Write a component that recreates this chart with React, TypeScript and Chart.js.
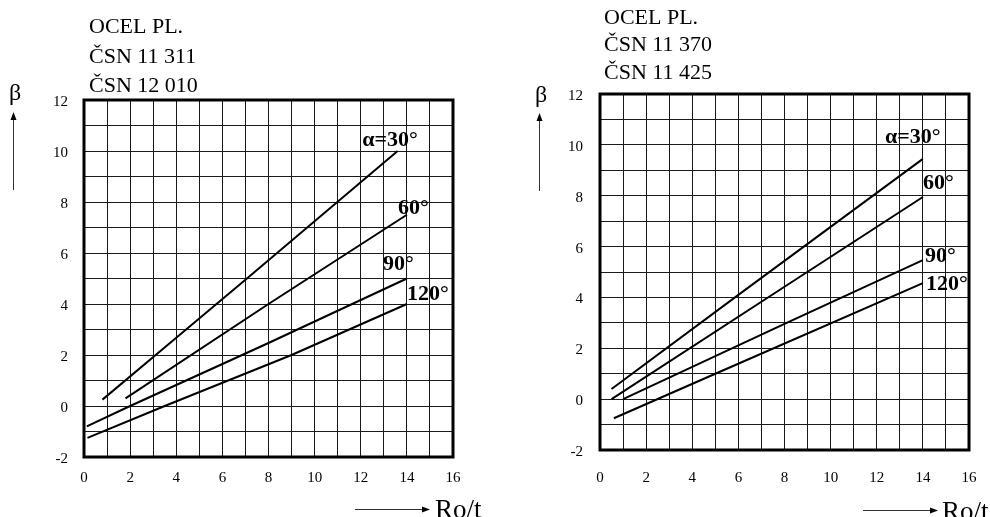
import { useEffect, useRef } from "react";
import { Chart, registerables } from "chart.js";

Chart.register(...registerables);

// ---- axis ranges / ticks ----
const X_MIN = 0;
const X_MAX = 16;
const Y_MIN = -2;
const Y_MAX = 12;
const X_TICK_LABELS = [0, 2, 4, 6, 8, 10, 12, 14, 16];
const Y_TICK_LABELS = [-2, 0, 2, 4, 6, 8, 10, 12];

// ---- series names ----
const SERIES_NAMES = ["α=30°", "60°", "90°", "120°"];

// ---- titles ----
const LEFT_TITLE = ["OCEL PL.", "ČSN 11 311", "ČSN 12 010"];
const RIGHT_TITLE = ["OCEL PL.", "ČSN 11 370", "ČSN 11 425"];
const Y_LABEL = "β";
const X_LABEL = "Ro/t";

// ---- left panel data (ČSN 11 311 / 12 010) ----
const L30_X = [0.8, 4, 7, 13.6];
const L30_Y = [0.25, 2.68, 4.95, 10.0];
const L60_X = [1.8, 8, 14];
const L60_Y = [0.3, 4.0, 7.5];
const L90_X = [0.12, 2, 8, 14];
const L90_Y = [-0.8, 0, 2.47, 5.0];
const L120_X = [0.15, 3.5, 9, 14];
const L120_Y = [-1.25, 0, 2.0, 4.0];

// ---- right panel data (ČSN 11 370 / 11 425) ----
const R30_X = [0.5, 6, 14];
const R30_Y = [0.4, 4.1, 9.45];
const R60_X = [0.5, 8, 14];
const R60_Y = [0.0, 4.42, 7.95];
const R90_X = [1.0, 8, 14];
const R90_Y = [0.0, 2.96, 5.47];
const R120_X = [0.6, 5, 14];
const R120_Y = [-0.75, 1.0, 4.56];

const SERIF = "'Liberation Serif', 'Times New Roman', serif";

type PanelCfg = {
  canvasLeft: number;
  width: number;
  height: number;
  padRight: number;
  padTop: number;
  padBottom: number;
  yAxisWidth: number;
  xAxisHeight: number;
  yTickPad: number;
  xTickPad: number;
  series: { xs: number[]; ys: number[] }[];
  labelAnchors: { x: number; y: number }[];
  title: string[];
  titleX: number;
  titleBaselines: number[];
  betaX: number;
  betaBaseline: number;
  yArrowX: number;
  yArrowTop: number;
  yArrowBottom: number;
  xArrowLeft: number;
  xArrowRight: number;
  xArrowY: number;
  xLabelX: number;
  xLabelBaseline: number;
};

const LEFT_PANEL: PanelCfg = {
  canvasLeft: 0,
  width: 495,
  height: 517,
  padRight: 42,
  padTop: 100,
  padBottom: 24,
  yAxisWidth: 84,
  xAxisHeight: 36,
  yTickPad: 16,
  xTickPad: 12,
  series: [
    { xs: L30_X, ys: L30_Y },
    { xs: L60_X, ys: L60_Y },
    { xs: L90_X, ys: L90_Y },
    { xs: L120_X, ys: L120_Y },
  ],
  labelAnchors: [
    { x: 12.06, y: 10.43 },
    { x: 13.62, y: 7.76 },
    { x: 12.97, y: 5.57 },
    { x: 14.0, y: 4.39 },
  ],
  title: LEFT_TITLE,
  titleX: 89,
  titleBaselines: [33, 63, 92],
  betaX: 9,
  betaBaseline: 100,
  yArrowX: 13,
  yArrowTop: 112,
  yArrowBottom: 190,
  xArrowLeft: 355,
  xArrowRight: 430,
  xArrowY: 509,
  xLabelX: 435,
  xLabelBaseline: 518,
};

const RIGHT_PANEL: PanelCfg = {
  canvasLeft: 495,
  width: 495,
  height: 517,
  padRight: 21,
  padTop: 94,
  padBottom: 25,
  yAxisWidth: 105,
  xAxisHeight: 42,
  yTickPad: 17,
  xTickPad: 19,
  series: [
    { xs: R30_X, ys: R30_Y },
    { xs: R60_X, ys: R60_Y },
    { xs: R90_X, ys: R90_Y },
    { xs: R120_X, ys: R120_Y },
  ],
  labelAnchors: [
    { x: 12.36, y: 10.31 },
    { x: 14.0, y: 8.5 },
    { x: 14.09, y: 5.63 },
    { x: 14.14, y: 4.53 },
  ],
  title: RIGHT_TITLE,
  titleX: 109,
  titleBaselines: [24, 51, 79],
  betaX: 40,
  betaBaseline: 102,
  yArrowX: 44,
  yArrowTop: 113,
  yArrowBottom: 191,
  xArrowLeft: 368,
  xArrowRight: 443,
  xArrowY: 510,
  xLabelX: 447,
  xLabelBaseline: 520,
};

function makeDecorPlugin(cfg: PanelCfg) {
  return {
    id: "decor",
    afterDraw(chart: any) {
      const ctx = chart.ctx as CanvasRenderingContext2D;
      const { left, top, right, bottom } = chart.chartArea;
      const xs = chart.scales.x;
      const ys = chart.scales.y;
      ctx.save();
      // thick frame
      ctx.strokeStyle = "#000";
      ctx.lineWidth = 3;
      ctx.strokeRect(left, top, right - left, bottom - top);

      // series labels
      ctx.fillStyle = "#000";
      ctx.font = `bold 22px ${SERIF}`;
      ctx.textAlign = "left";
      ctx.textBaseline = "middle";
      cfg.labelAnchors.forEach((a, i) => {
        ctx.fillText(SERIES_NAMES[i], xs.getPixelForValue(a.x), ys.getPixelForValue(a.y));
      });

      // title
      ctx.font = `22px ${SERIF}`;
      ctx.textBaseline = "alphabetic";
      cfg.title.forEach((t, i) => ctx.fillText(t, cfg.titleX, cfg.titleBaselines[i]));

      // beta + arrow
      ctx.font = `24px ${SERIF}`;
      ctx.fillText(Y_LABEL, cfg.betaX, cfg.betaBaseline);
      ctx.strokeStyle = "#333";
      ctx.fillStyle = "#000";
      ctx.lineWidth = 1;
      ctx.beginPath();
      ctx.moveTo(cfg.yArrowX + 0.5, cfg.yArrowBottom);
      ctx.lineTo(cfg.yArrowX + 0.5, cfg.yArrowTop + 6);
      ctx.stroke();
      ctx.beginPath();
      ctx.moveTo(cfg.yArrowX + 0.5, cfg.yArrowTop);
      ctx.lineTo(cfg.yArrowX + 3.5, cfg.yArrowTop + 8);
      ctx.lineTo(cfg.yArrowX - 2.5, cfg.yArrowTop + 8);
      ctx.closePath();
      ctx.fill();

      // Ro/t arrow + label
      ctx.beginPath();
      ctx.moveTo(cfg.xArrowLeft, cfg.xArrowY + 0.5);
      ctx.lineTo(cfg.xArrowRight - 6, cfg.xArrowY + 0.5);
      ctx.stroke();
      ctx.beginPath();
      ctx.moveTo(cfg.xArrowRight, cfg.xArrowY + 0.5);
      ctx.lineTo(cfg.xArrowRight - 8, cfg.xArrowY - 2.5);
      ctx.lineTo(cfg.xArrowRight - 8, cfg.xArrowY + 3.5);
      ctx.closePath();
      ctx.fill();
      ctx.font = `27px ${SERIF}`;
      ctx.fillText(X_LABEL, cfg.xLabelX, cfg.xLabelBaseline);
      ctx.restore();
    },
  };
}

function Panel({ cfg }: { cfg: PanelCfg }) {
  const ref = useRef<HTMLCanvasElement | null>(null);
  useEffect(() => {
    if (!ref.current) return;
    const tickFont = { family: SERIF, size: 15 };
    const chart = new Chart(ref.current, {
      type: "line",
      data: {
        datasets: cfg.series.map((s, i) => ({
          label: SERIES_NAMES[i],
          data: s.xs.map((x, j) => ({ x, y: s.ys[j] })),
          borderColor: "#000",
          borderWidth: 2,
          pointRadius: 0,
          tension: 0,
          fill: false,
        })),
      },
      options: {
        animation: false,
        responsive: false,
        devicePixelRatio: 1,
        layout: {
          padding: { left: 0, right: cfg.padRight, top: cfg.padTop, bottom: cfg.padBottom },
        },
        plugins: {
          legend: { display: false },
          tooltip: { enabled: false },
          title: { display: false },
        },
        scales: {
          x: {
            type: "linear",
            min: X_MIN,
            max: X_MAX,
            afterFit: (s: any) => {
              s.height = cfg.xAxisHeight;
              s.paddingLeft = 0;
              s.paddingRight = 0;
            },
            border: { display: false },
            grid: { color: "#1a1a1a", lineWidth: 1, drawTicks: false },
            ticks: {
              stepSize: 1,
              autoSkip: false,
              maxRotation: 0,
              minRotation: 0,
              padding: cfg.xTickPad,
              color: "#000",
              font: tickFont,
              callback: (v: any) => (X_TICK_LABELS.includes(Number(v)) ? String(v) : ""),
            },
          },
          y: {
            type: "linear",
            min: Y_MIN,
            max: Y_MAX,
            afterFit: (s: any) => {
              s.width = cfg.yAxisWidth;
              s.paddingTop = 0;
              s.paddingBottom = 0;
            },
            border: { display: false },
            grid: { color: "#1a1a1a", lineWidth: 1, drawTicks: false },
            ticks: {
              stepSize: 1,
              autoSkip: false,
              padding: cfg.yTickPad,
              labelOffset: 2,
              color: "#000",
              font: tickFont,
              callback: (v: any) => (Y_TICK_LABELS.includes(Number(v)) ? String(v) : ""),
            },
          },
        },
      },
      plugins: [makeDecorPlugin(cfg)],
    } as any);
    return () => chart.destroy();
  }, [cfg]);
  return (
    <canvas
      ref={ref}
      width={cfg.width}
      height={cfg.height}
      style={{
        position: "absolute",
        left: cfg.canvasLeft,
        top: 0,
        width: cfg.width,
        height: cfg.height,
      }}
    />
  );
}

export default function App() {
  return (
    <div
      style={{
        position: "absolute",
        left: 0,
        top: 0,
        width: 990,
        height: 517,
        background: "#fff",
        overflow: "hidden",
      }}
    >
      <Panel cfg={LEFT_PANEL} />
      <Panel cfg={RIGHT_PANEL} />
    </div>
  );
}
